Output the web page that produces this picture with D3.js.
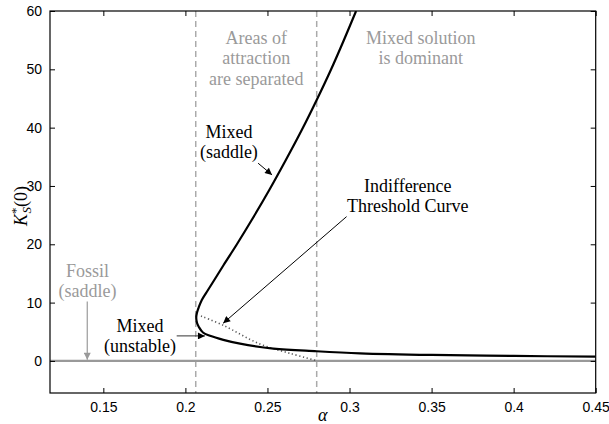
<!DOCTYPE html>
<html>
<head>
<meta charset="utf-8">
<script src="https://cdn.jsdelivr.net/npm/d3@7"></script>
<style>
  html, body { margin: 0; padding: 0; background: #fff; }
  svg { display: block; }
</style>
</head>
<body>
<svg id="chart" width="609" height="424"></svg>
<script>
// ---------------- data ----------------
const xTicks = [0.15, 0.2, 0.25, 0.3, 0.35, 0.4, 0.45];
const xTickLabels = ["0.15", "0.2", "0.25", "0.3", "0.35", "0.4", "0.45"];
const yTicks = [0, 10, 20, 30, 40, 50, 60];
const yTickLabels = ["0", "10", "20", "30", "40", "50", "60"];

// Mixed equilibrium curve (fold): upper saddle branch -> nose -> lower unstable branch
const mixedAlpha = [0.3040, 0.2966, 0.2886, 0.2800, 0.2709, 0.2612, 0.2511, 0.2404, 0.2311, 0.2233, 0.2176, 0.2130, 0.2100, 0.2082, 0.2070, 0.2066, 0.2071, 0.2082, 0.2107, 0.2150, 0.2231, 0.2333, 0.2536, 0.2800, 0.3064, 0.3500, 0.4000, 0.4500];
const mixedK     = [60.0,   55.03,  49.88,  44.74,  39.59,  34.45,  29.31,  24.16,  19.88,  16.45,  13.87,  11.82,  10.45,  9.25,   8.22,   7.36,   6.50,   5.82,   4.87,   4.31,   3.62,   2.96,   2.12,   1.66,   1.31,   1.03,   0.86,   0.73];

// Indifference threshold curve (dotted)
const thresholdAlpha = [0.2095, 0.2231, 0.2454, 0.2637, 0.2800];
const thresholdK     = [7.7,    6.1,    2.9,    1.3,    0.05];

// Fossil equilibrium (K = 0)
const fossilAlpha = [0.1175, 0.45];
const fossilK = [0, 0];

// Regime boundaries
const boundaryAlpha = [0.2063, 0.2800];

// ---------------- layout ----------------
const svg = d3.select("#chart");
const mL = 50, mR = 595.7, mT = 11, mB = 393;
const x = d3.scaleLinear().domain([0.1175, 0.45]).range([mL, mR]);
const y = d3.scaleLinear().domain([-5.5, 60]).range([mB, mT]);

const serif = "'Liberation Serif', 'Times New Roman', Times, serif";
const sans = "'Liberation Sans', Arial, Helvetica, sans-serif";
const gray = "#9a9a9a";

// arrow markers
const defs = svg.append("defs");
function marker(id, color) {
  defs.append("marker")
    .attr("id", id)
    .attr("viewBox", "0 0 10 10")
    .attr("refX", 10).attr("refY", 5)
    .attr("markerWidth", 10).attr("markerHeight", 7)
    .attr("markerUnits", "userSpaceOnUse")
    .attr("orient", "auto")
    .append("path").attr("d", "M0,0 L10,5 L0,10 Z").attr("fill", color);
}
marker("arrBlack", "#000");
marker("arrGray", gray);

defs.append("clipPath").attr("id", "plotClip")
  .append("rect").attr("x", mL).attr("y", mT)
  .attr("width", mR - mL).attr("height", mB - mT);

const plot = svg.append("g").attr("clip-path", "url(#plotClip)");

// dashed boundaries
plot.selectAll("line.boundary").data(boundaryAlpha).enter().append("line")
  .attr("class", "boundary")
  .attr("x1", d => x(d)).attr("x2", d => x(d))
  .attr("y1", mT).attr("y2", mB)
  .attr("stroke", "#aaaaaa").attr("stroke-width", 1.5)
  .attr("stroke-dasharray", "6,4");

const line = d3.line().x(d => x(d[0])).y(d => y(d[1]));

// fossil line
plot.append("path")
  .datum(fossilAlpha.map((a, i) => [a, fossilK[i]]))
  .attr("d", line)
  .attr("fill", "none").attr("stroke", "#999").attr("stroke-width", 2.2);

// threshold dotted curve
plot.append("path")
  .datum(thresholdAlpha.map((a, i) => [a, thresholdK[i]]))
  .attr("d", line.curve(d3.curveCatmullRom))
  .attr("fill", "none").attr("stroke", "#555").attr("stroke-width", 1.6)
  .attr("stroke-dasharray", "1.2,2.6");

// mixed curve
plot.append("path")
  .datum(mixedAlpha.map((a, i) => [a, mixedK[i]]))
  .attr("d", line.curve(d3.curveCatmullRom.alpha(0.5)))
  .attr("fill", "none").attr("stroke", "#000").attr("stroke-width", 2.2)
  .attr("stroke-linejoin", "round");

// ---------------- annotations ----------------
function label(lines, ax, ky, color, lh) {
  const t = svg.append("text")
    .attr("x", x(ax)).attr("y", y(ky))
    .attr("text-anchor", "middle")
    .attr("font-family", serif).attr("font-size", 18)
    .attr("fill", color);
  lines.forEach((s, i) => {
    t.append("tspan").attr("x", x(ax)).attr("dy", i === 0 ? 0 : lh).text(s);
  });
}
function arrow(a1, k1, a2, k2, color, id, w) {
  svg.append("line")
    .attr("x1", x(a1)).attr("y1", y(k1)).attr("x2", x(a2)).attr("y2", y(k2))
    .attr("stroke", color).attr("stroke-width", w)
    .attr("marker-end", `url(#${id})`);
}

label(["Areas of", "attraction", "are separated"], 0.2432, 54.4, gray, 20.5);
label(["Mixed solution", "is dominant"], 0.3434, 54.4, gray, 20.5);
label(["Mixed", "(saddle)"], 0.2265, 38.2, "#000", 20);
label(["Indifference", "Threshold Curve"], 0.3355, 29.0, "#000", 20);
label(["Mixed", "(unstable)"], 0.1723, 5.02, "#000", 20);
label(["Fossil", "(saddle)"], 0.1403, 14.45, gray, 20);

arrow(0.2443, 33.9, 0.2528, 31.9, "#000", "arrBlack", 1);
arrow(0.2982, 24.74, 0.2230, 6.46, "#000", "arrBlack", 1);
arrow(0.1947, 4.29, 0.2119, 4.29, "#333", "arrBlack", 1);
arrow(0.1402, 10.17, 0.1402, 0.2, gray, "arrGray", 1.2);

// ---------------- axes ----------------
const axes = svg.append("g");
axes.append("rect")
  .attr("x", mL).attr("y", mT).attr("width", mR - mL).attr("height", mB - mT)
  .attr("fill", "none").attr("stroke", "#000").attr("stroke-width", 1.2);

const tickLen = 5;
axes.append("g").attr("transform", `translate(0,${mB})`)
  .call(d3.axisBottom(x).tickValues(xTicks).tickSize(-tickLen).tickSizeOuter(0)
    .tickFormat((d, i) => xTickLabels[i]).tickPadding(9))
  .call(g => g.select(".domain").remove())
  .call(g => g.selectAll("text").attr("font-family", sans).attr("font-size", 14).attr("fill", "#000"));
axes.append("g").attr("transform", `translate(0,${mT})`)
  .call(d3.axisTop(x).tickValues(xTicks).tickSize(-tickLen).tickSizeOuter(0).tickFormat(""))
  .call(g => g.select(".domain").remove());
axes.append("g").attr("transform", `translate(${mL},0)`)
  .call(d3.axisLeft(y).tickValues(yTicks).tickSize(-tickLen).tickSizeOuter(0)
    .tickFormat((d, i) => yTickLabels[i]).tickPadding(8))
  .call(g => g.select(".domain").remove())
  .call(g => g.selectAll("text").attr("font-family", sans).attr("font-size", 14).attr("fill", "#000"));
axes.append("g").attr("transform", `translate(${mR},0)`)
  .call(d3.axisRight(y).tickValues(yTicks).tickSize(-tickLen).tickSizeOuter(0).tickFormat(""))
  .call(g => g.select(".domain").remove());
axes.selectAll(".tick line").attr("stroke", "#000").attr("stroke-width", 1);

// axis titles
svg.append("text")
  .attr("x", (mL + mR) / 2).attr("y", 421)
  .attr("text-anchor", "middle")
  .attr("font-family", serif).attr("font-style", "italic").attr("font-size", 18)
  .text("α");

const yl = svg.append("text")
  .attr("transform", "translate(27,226) rotate(-90)")
  .attr("font-family", serif).attr("font-size", 18);
yl.append("tspan").attr("font-style", "italic").text("K");
yl.append("tspan").attr("font-size", 13).attr("dy", -7).text("*");
yl.append("tspan").attr("font-style", "italic").attr("font-size", 13).attr("dx", -6).attr("dy", 11).text("S");
yl.append("tspan").attr("dy", -4).text("(0)");
</script>
</body>
</html>
